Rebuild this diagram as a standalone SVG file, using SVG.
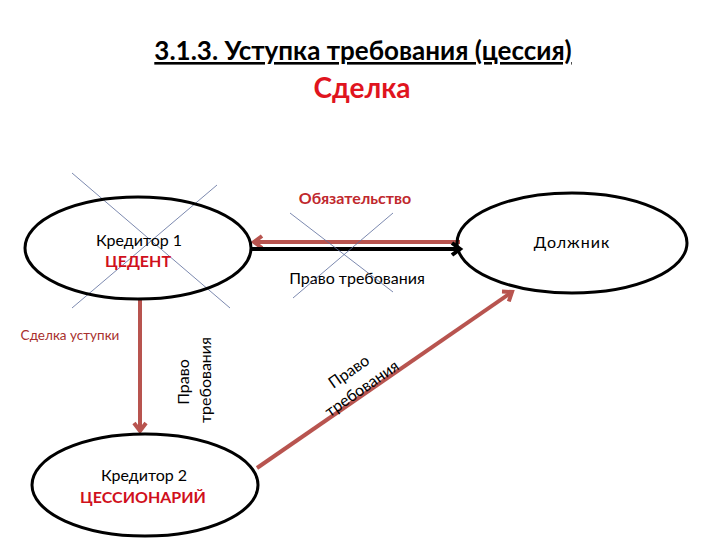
<svg xmlns="http://www.w3.org/2000/svg" width="720" height="540" viewBox="0 0 720 540">
<style>
text{font-family:Lato,"Liberation Sans",sans-serif;}
.node{fill:none;stroke:#000;stroke-width:3;}
.lbl{font-size:16px;fill:#000;text-anchor:middle;}
.red{font-size:16px;fill:#d0101c;font-weight:bold;text-anchor:middle;}
.x{stroke:#5a6b9a;stroke-width:0.8;}
.ra{stroke:#b8544f;stroke-width:4;fill:none;}
.ba{stroke:#000;stroke-width:4;fill:none;}
</style>
<defs>
<marker id="mr" markerUnits="userSpaceOnUse" markerWidth="16" markerHeight="16" refX="12" refY="8" orient="auto">
<path d="M4,2 L12,8 L4,14" fill="none" stroke="#b8544f" stroke-width="4"/>
</marker>
<marker id="mb" markerUnits="userSpaceOnUse" markerWidth="16" markerHeight="16" refX="12" refY="8" orient="auto">
<path d="M4,2 L12,8 L4,14" fill="none" stroke="#000" stroke-width="4"/>
</marker>
</defs>
<rect width="720" height="540" fill="#fff"/>
<g id="title">
<text x="363" y="60" text-anchor="middle" font-size="26" font-weight="bold" text-decoration="underline" fill="#000">3.1.3. Уступка требования (цессия)</text>
<text x="362" y="98" text-anchor="middle" font-size="28" font-weight="bold" fill="#e0141e">Сделка</text>
</g>
<g id="connectors">
<line class="ra" x1="460" y1="242" x2="254" y2="242" marker-end="url(#mr)"/>
<line class="ba" x1="252" y1="249" x2="460" y2="249" marker-end="url(#mb)"/>
<line class="ra" x1="140" y1="300" x2="140" y2="431" marker-end="url(#mr)"/>
<line class="ra" x1="257" y1="468" x2="512" y2="292" marker-end="url(#mr)"/>
<text x="355" y="204" class="red" style="fill:#c0282d">Обязательство</text>
<text x="357" y="284" class="lbl">Право требования</text>
<text x="70" y="340" font-size="13.5" fill="#a8302d" text-anchor="middle">Сделка уступки</text>
<text transform="translate(189,382) rotate(-90)" class="lbl">Право</text>
<text transform="translate(211,380) rotate(-90)" class="lbl">требования</text>
<text transform="translate(352,376) rotate(-35)" class="lbl">Право</text>
<text transform="translate(365,393) rotate(-35)" class="lbl">требования</text>
</g>
<g id="cross">
<line class="x" x1="72" y1="173" x2="230" y2="308"/>
<line class="x" x1="217" y1="185" x2="72" y2="308"/>
<line class="x" x1="290" y1="213" x2="393" y2="292"/>
<line class="x" x1="393" y1="213" x2="293" y2="298"/>
</g>
<g id="kreditor1">
<ellipse class="node" cx="138" cy="248" rx="113" ry="51"/>
<text x="139" y="246" class="lbl">Кредитор 1</text>
<text x="138" y="267" class="red">ЦЕДЕНТ</text>
</g>
<g id="dolzhnik">
<ellipse class="node" cx="572" cy="243" rx="115" ry="50"/>
<text x="572" y="248" class="lbl" letter-spacing="1">Должник</text>
</g>
<g id="kreditor2">
<ellipse class="node" cx="145" cy="485" rx="113" ry="51"/>
<text x="144" y="481" class="lbl">Кредитор 2</text>
<text x="143" y="503" class="red">ЦЕССИОНАРИЙ</text>
</g>
</svg>
